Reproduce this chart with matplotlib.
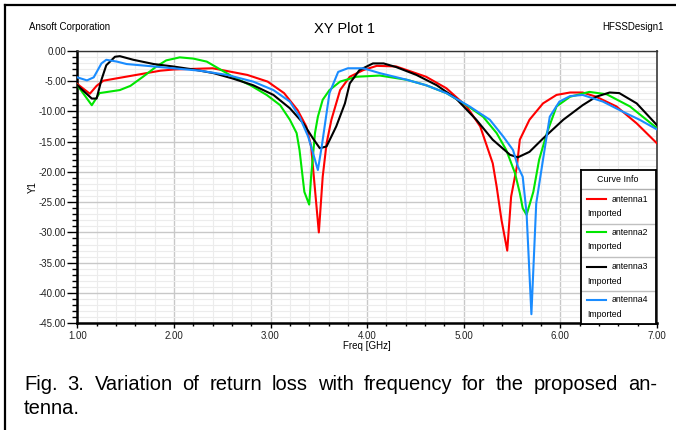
import numpy as np
import matplotlib
matplotlib.use("Agg")
import matplotlib.pyplot as plt
from matplotlib.ticker import MultipleLocator, FormatStrFormatter
from matplotlib.lines import Line2D

# return loss curves (Freq in GHz, Y1 in dB)
freq1 = [1.00, 1.13, 1.20, 1.27, 1.86, 2.00, 2.40, 2.76, 2.97, 3.14, 3.28, 3.37, 3.42, 3.50,
         3.54, 3.58, 3.63, 3.72, 3.82, 3.96, 4.10, 4.30, 4.41, 4.61, 4.82, 5.03, 5.17, 5.30,
         5.34, 5.39, 5.45, 5.49, 5.55, 5.58, 5.68, 5.82, 5.96, 6.10, 6.23, 6.37, 6.58, 6.79, 7.00]
ant1 = [-5.5, -7.1, -5.8, -4.95, -3.3, -3.1, -2.9, -4.0, -5.1, -7.0, -9.8, -12.5, -15.8, -30.0,
        -20.8, -15.3, -11.4, -6.5, -4.3, -3.2, -2.5, -2.6, -3.2, -4.3, -6.2, -9.2, -12.5, -18.6,
        -22.4, -27.9, -33.0, -24.1, -19.1, -14.7, -11.4, -8.7, -7.3, -6.9, -6.9, -7.6, -9.2, -12.0, -15.3]

freq2 = [1.00, 1.15, 1.23, 1.44, 1.55, 1.68, 1.82, 1.92, 2.06, 2.20, 2.34, 2.48, 2.61, 2.79,
         2.96, 3.10, 3.20, 3.27, 3.30, 3.35, 3.40, 3.42, 3.46, 3.49, 3.54, 3.61, 3.72, 3.89,
         4.13, 4.41, 4.61, 4.82, 5.03, 5.20, 5.34, 5.44, 5.53, 5.58, 5.61, 5.65, 5.72, 5.78,
         5.86, 5.96, 6.10, 6.30, 6.48, 6.72, 7.00]
ant2 = [-5.7, -9.0, -7.0, -6.5, -5.8, -4.3, -2.6, -1.6, -1.1, -1.3, -1.8, -3.1, -4.3, -5.7,
        -7.3, -9.0, -11.4, -13.6, -16.4, -23.3, -25.4, -20.8, -13.6, -10.9, -8.1, -6.5, -5.1, -4.3,
        -4.1, -4.8, -5.7, -7.0, -9.0, -10.9, -13.6, -16.4, -20.2, -23.5, -26.0, -27.1, -23.3, -18.0,
        -13.6, -9.2, -7.6, -6.8, -7.2, -9.2, -12.8]

freq3 = [1.00, 1.15, 1.20, 1.25, 1.30, 1.39, 1.44, 1.58, 1.79, 1.99, 2.20, 2.41, 2.61, 2.82,
         3.03, 3.20, 3.34, 3.44, 3.51, 3.58, 3.68, 3.77, 3.82, 3.92, 4.06, 4.17, 4.30, 4.51,
         4.72, 4.92, 5.13, 5.30, 5.48, 5.56, 5.68, 5.82, 6.03, 6.23, 6.37, 6.51, 6.61, 6.79, 7.00]
ant3 = [-5.7, -7.9, -7.9, -4.8, -2.4, -1.0, -0.9, -1.5, -2.2, -2.6, -3.1, -3.7, -4.6, -5.7,
        -7.3, -9.5, -12.0, -14.5, -16.1, -15.8, -12.5, -8.7, -5.4, -3.2, -2.1, -2.1, -2.7, -4.0,
        -5.7, -7.9, -11.4, -14.7, -17.2, -17.6, -16.7, -14.5, -11.4, -9.0, -7.6, -6.9, -7.0, -8.7, -12.3]

freq4 = [1.00, 1.10, 1.17, 1.25, 1.30, 1.41, 1.51, 1.72, 1.99, 2.27, 2.55, 2.82, 3.03, 3.20,
         3.30, 3.39, 3.44, 3.49, 3.53, 3.57, 3.61, 3.70, 3.80, 3.96, 4.13, 4.41, 4.61, 4.82,
         5.06, 5.27, 5.41, 5.51, 5.56, 5.61, 5.65, 5.70, 5.75, 5.82, 5.89, 5.99, 6.10, 6.23,
         6.44, 6.65, 6.82, 7.00]
ant4 = [-4.4, -4.9, -4.4, -2.1, -1.5, -1.8, -2.2, -2.5, -2.9, -3.3, -4.0, -5.1, -6.5, -8.4,
        -10.9, -14.2, -16.9, -19.7, -15.8, -11.4, -7.0, -3.5, -2.9, -2.9, -3.7, -4.8, -5.7, -7.0,
        -9.2, -11.4, -14.2, -16.4, -19.1, -20.8, -26.8, -43.5, -25.2, -18.0, -10.9, -8.4, -7.5, -7.3,
        -8.4, -10.1, -11.4, -13.0]

names = ["antenna1", "antenna2", "antenna3", "antenna4"]
colors = ["#ff0000", "#00e600", "#000000", "#1a8cff"]

caption1 = "Fig. 3. Variation of return loss with frequency for the proposed an-"
caption2 = "tenna."

narrow = ["Liberation Sans Narrow", "Liberation Sans", "DejaVu Sans"]
serif_free = ["Liberation Sans", "DejaVu Sans"]

W, H = 676, 430
fig = plt.figure(figsize=(W / 100, H / 100), dpi=100)

def fx(px):
    return px / W

def fy(py):
    return 1 - py / H

# outer frame (left and top edges)
fig.add_artist(Line2D([fx(5), fx(5)], [fy(5), 0], color="black", lw=1.6))
fig.add_artist(Line2D([fx(5), 1], [fy(5), fy(5)], color="black", lw=1.6))

left, right, top, bottom = 77.3, 657.0, 50.7, 323.3
ax = fig.add_axes([fx(left), fy(bottom), (right - left) / W, (bottom - top) / H])

for f, v, c in zip([freq1, freq2, freq3, freq4], [ant1, ant2, ant3, ant4], colors):
    ax.plot(f, v, color=c, lw=1.5, zorder=3)

ax.set_xlim(1, 7)
ax.set_ylim(-45, 0)
ax.xaxis.set_major_locator(MultipleLocator(1))
ax.xaxis.set_minor_locator(MultipleLocator(0.2))
ax.yaxis.set_major_locator(MultipleLocator(5))
ax.yaxis.set_minor_locator(MultipleLocator(1))
ax.xaxis.set_major_formatter(FormatStrFormatter("%.2f"))
ax.yaxis.set_major_formatter(FormatStrFormatter("%.2f"))
ax.grid(which="major", color="#c8c8c8", lw=1.0, zorder=0)
ax.grid(which="minor", color="#ececec", lw=0.8, zorder=0)
ax.set_axisbelow(True)

ax.tick_params(axis="y", which="major", length=7, width=1, direction="out", pad=1, colors="black")
ax.tick_params(axis="y", which="minor", length=3.5, width=1, direction="out")
ax.tick_params(axis="x", which="major", length=3.5, width=1, direction="out", pad=2)
ax.tick_params(axis="x", which="minor", length=2.5, width=1, direction="out")
for lab in ax.get_xticklabels() + ax.get_yticklabels():
    lab.set_family(narrow)
    lab.set_fontsize(7)
    lab.set_color("#222222")

for s in ["left", "bottom"]:
    ax.spines[s].set_linewidth(1.8)
    ax.spines[s].set_color("black")
ax.spines["top"].set_linewidth(1.0)
ax.spines["top"].set_color("#333333")
ax.spines["right"].set_linewidth(1.4)
ax.spines["right"].set_color("#555555")

ax.set_xlabel("Freq [GHz]", family=narrow, fontsize=7, labelpad=0)
ax.set_ylabel("Y1", family=narrow, fontsize=7, labelpad=0.5)

fig.text(fx(29), fy(27), "Ansoft Corporation", family=narrow, fontsize=7, va="center", ha="left")
fig.text(fx(344), fy(29), "XY Plot 1", family=narrow, fontsize=10.5, va="center", ha="center")
fig.text(fx(664), fy(27), "HFSSDesign1", family=narrow, fontsize=7, va="center", ha="right")

# curve info box
lx0, lx1, ly0, ly1 = 580.7, 655.5, 170.0, 324.0
lg = fig.add_axes([fx(lx0), fy(ly1), (lx1 - lx0) / W, (ly1 - ly0) / H])
lg.set_xlim(lx0, lx1)
lg.set_ylim(ly1, ly0)
lg.set_xticks([])
lg.set_yticks([])
lg.set_facecolor("white")
for s in lg.spines.values():
    s.set_linewidth(1.3)
    s.set_color("black")
lg.text((lx0 + lx1) / 2, 179.5, "Curve Info", family=narrow, fontsize=6.4, ha="center", va="center")
lg.plot([lx0, lx1], [189.3, 189.3], color="#b0b0b0", lw=1)
row_y = [199.0, 232.3, 266.7, 300.0]
for i, (name, c) in enumerate(zip(names, colors)):
    y0 = row_y[i]
    lg.plot([587.3, 606.0], [y0, y0], color=c, lw=1.5)
    lg.text(611.5, y0, name, family=narrow, fontsize=6.3, ha="left", va="center")
    lg.text(587.5, y0 + 14.5, "Imported", family=narrow, fontsize=6.3, ha="left", va="center")
    if i < 3:
        lg.plot([lx0, lx1], [y0 + 24.5, y0 + 24.5], color="#c0c0c0", lw=1)

# justified caption: first line spread from x=24 to x=657
cap_size = 14.5
renderer = fig.canvas.get_renderer()
words = caption1.split(" ")
widths = []
for w in words:
    t = fig.text(0, 0, w, family=serif_free, fontsize=cap_size)
    widths.append(t.get_window_extent(renderer).width)
    t.remove()
x0, x1 = 24.0, 657.0
gap = (x1 - x0 - sum(widths)) / (len(words) - 1)
xpos = x0
for w, wd in zip(words, widths):
    fig.text(fx(xpos), fy(385), w, family=serif_free, fontsize=cap_size, va="center", ha="left")
    xpos += wd + gap
fig.text(fx(x0), fy(408), caption2, family=serif_free, fontsize=cap_size, va="center", ha="left")

fig.savefig("out.png", dpi=100)
